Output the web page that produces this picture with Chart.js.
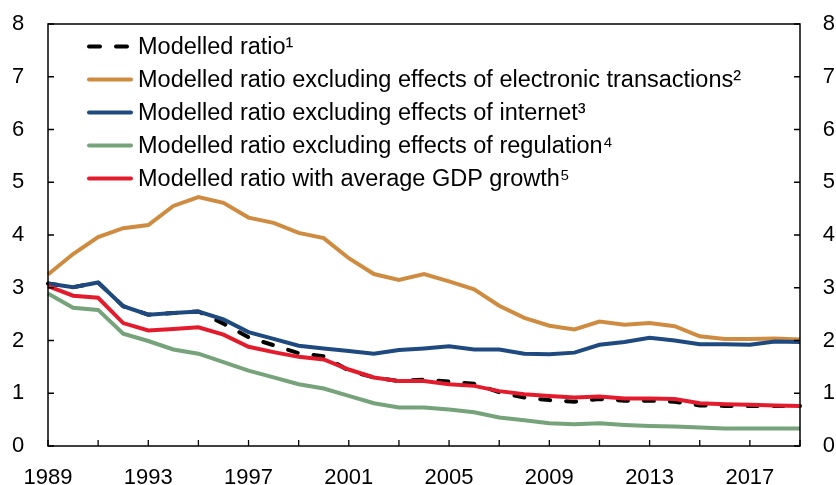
<!DOCTYPE html>
<html lang="en">
<head>
  <meta charset="UTF-8">
  <title>Modelled ratio</title>
  <script src="https://cdn.jsdelivr.net/npm/chart.js@4.4.2/dist/chart.umd.min.js"></script>
  <style>
    body{margin:0;background:#fff;}
    .wrap{width:836px;height:485px;}
  </style>
</head>
<body>
<div class="wrap"><canvas id="myChart" width="836" height="485"></canvas></div>
<script>
const years = ['1989','1990','1991','1992','1993','1994','1995','1996','1997','1998',
  '1999','2000','2001','2002','2003','2004','2005','2006','2007','2008',
  '2009','2010','2011','2012','2013','2014','2015','2016','2017','2018','2019'];

const seriesNames = [
  'Modelled ratio\u00B9',
  'Modelled ratio excluding effects of electronic transactions\u00B2',
  'Modelled ratio excluding effects of internet\u00B3',
  'Modelled ratio excluding effects of regulation\u2074',
  'Modelled ratio with average GDP growth\u2075'
];

const modelled = [3.08,3.01,3.10,2.65,2.49,2.52,2.55,2.32,2.06,1.91,1.76,1.70,1.43,1.30,1.23,1.26,1.22,1.18,1.02,0.92,0.87,0.84,0.89,0.86,0.86,0.84,0.77,0.76,0.76,0.76,0.76];
const exElectronic = [3.25,3.64,3.96,4.13,4.19,4.55,4.72,4.61,4.33,4.23,4.04,3.94,3.56,3.26,3.15,3.26,3.12,2.97,2.66,2.43,2.28,2.21,2.36,2.30,2.33,2.27,2.08,2.03,2.03,2.04,2.02];
const exInternet = [3.08,3.01,3.10,2.65,2.49,2.52,2.55,2.40,2.16,2.03,1.90,1.85,1.80,1.75,1.82,1.85,1.89,1.83,1.83,1.75,1.74,1.77,1.92,1.97,2.05,2.00,1.93,1.93,1.92,1.98,1.97];
const exRegulation = [2.89,2.62,2.58,2.13,1.99,1.83,1.75,1.59,1.43,1.30,1.17,1.09,0.95,0.81,0.73,0.73,0.69,0.64,0.54,0.49,0.43,0.41,0.43,0.40,0.38,0.37,0.35,0.33,0.33,0.33,0.33];
const avgGdp = [3.03,2.85,2.81,2.33,2.19,2.22,2.25,2.11,1.88,1.78,1.69,1.64,1.45,1.30,1.23,1.23,1.17,1.14,1.04,0.98,0.95,0.92,0.94,0.90,0.90,0.89,0.81,0.79,0.78,0.77,0.76];

const yTicks = [0,1,2,3,4,5,6,7,8];

const FONT = "'Liberation Sans', Arial, sans-serif";
const colors = ['#000000','#CF8C40','#1E4A80','#76A37A','#E31C2D'];

function line(label, data, color, order, dash) {
  return {
    label: label, data: data, borderColor: color, backgroundColor: color,
    borderWidth: 4, pointRadius: 0, tension: 0, fill: false,
    borderDash: dash || [], borderCapStyle: dash ? 'round' : 'butt',
    order: order
  };
}

// frame, inward ticks and the legend box
const framePlugin = {
  id: 'frame',
  afterDraw(chart) {
    const ctx = chart.ctx;
    const a = chart.chartArea;
    const x = chart.scales.x, y = chart.scales.y;
    ctx.save();
    ctx.strokeStyle = '#000';
    ctx.lineWidth = 1.5;
    ctx.strokeRect(a.left, a.top, a.right - a.left, a.bottom - a.top);
    ctx.lineWidth = 1.3;
    ctx.beginPath();
    for (let i = 0; i < years.length; i += 2) {
      const px = x.getPixelForValue(i);
      ctx.moveTo(px, a.bottom);
      ctx.lineTo(px, a.bottom - 6);
    }
    yTicks.forEach(v => {
      const py = y.getPixelForValue(v);
      ctx.moveTo(a.left, py); ctx.lineTo(a.left + 6, py);
      ctx.moveTo(a.right, py); ctx.lineTo(a.right - 6, py);
    });
    ctx.stroke();

    // legend
    ctx.font = '23.5px ' + FONT;
    ctx.textBaseline = 'middle';
    ctx.fillStyle = '#000';
    ctx.lineCap = 'round';
    const lx = a.left + 41;
    chart.data.datasets.forEach((ds, i) => {
      const ly = a.top + 22.5 + i * 33;
      ctx.strokeStyle = ds.borderColor;
      ctx.lineWidth = 4;
      ctx.setLineDash(ds.borderDash.length ? [11, 16] : []);
      ctx.beginPath();
      ctx.moveTo(lx, ly); ctx.lineTo(lx + 42, ly);
      ctx.stroke();
      ctx.setLineDash([]);
      ctx.fillText(ds.label, lx + 49, ly + 1.5);
    });
    ctx.restore();
  }
};

const ctx = document.getElementById('myChart').getContext('2d');
const myChart = new Chart(ctx, {
  type: 'line',
  data: {
    labels: years,
    datasets: [
      line(seriesNames[0], modelled, colors[0], 5, [10, 16]),
      line(seriesNames[1], exElectronic, colors[1], 4),
      line(seriesNames[2], exInternet, colors[2], 3),
      line(seriesNames[3], exRegulation, colors[3], 2),
      line(seriesNames[4], avgGdp, colors[4], 1)
    ]
  },
  options: {
    responsive: false,
    animation: false,
    layout: { padding: { top: 24, left: 12, right: 1, bottom: 0 } },
    plugins: { legend: { display: false }, tooltip: { enabled: false } },
    scales: {
      x: {
        offset: false,
        grid: { display: false, drawTicks: false },
        border: { display: false },
        afterFit: s => { s.height = 39; },
        ticks: {
          autoSkip: false, maxRotation: 0, padding: 19,
          color: '#000', font: { size: 22, family: FONT },
          callback: function (v, i) { return i % 4 === 0 ? years[i] : ''; }
        }
      },
      y: {
        position: 'left', min: 0, max: 8,
        grid: { display: false, drawTicks: false },
        border: { display: false },
        afterFit: s => { s.width = 36; },
        ticks: { stepSize: 1, padding: 0, crossAlign: 'far', color: '#000', font: { size: 22, family: FONT } }
      },
      y2: {
        position: 'right', min: 0, max: 8,
        grid: { display: false, drawTicks: false },
        border: { display: false },
        afterFit: s => { s.width = 35; },
        ticks: { stepSize: 1, padding: 0, crossAlign: 'far', color: '#000', font: { size: 22, family: FONT } }
      }
    }
  },
  plugins: [framePlugin]
});
</script>
</body>
</html>
